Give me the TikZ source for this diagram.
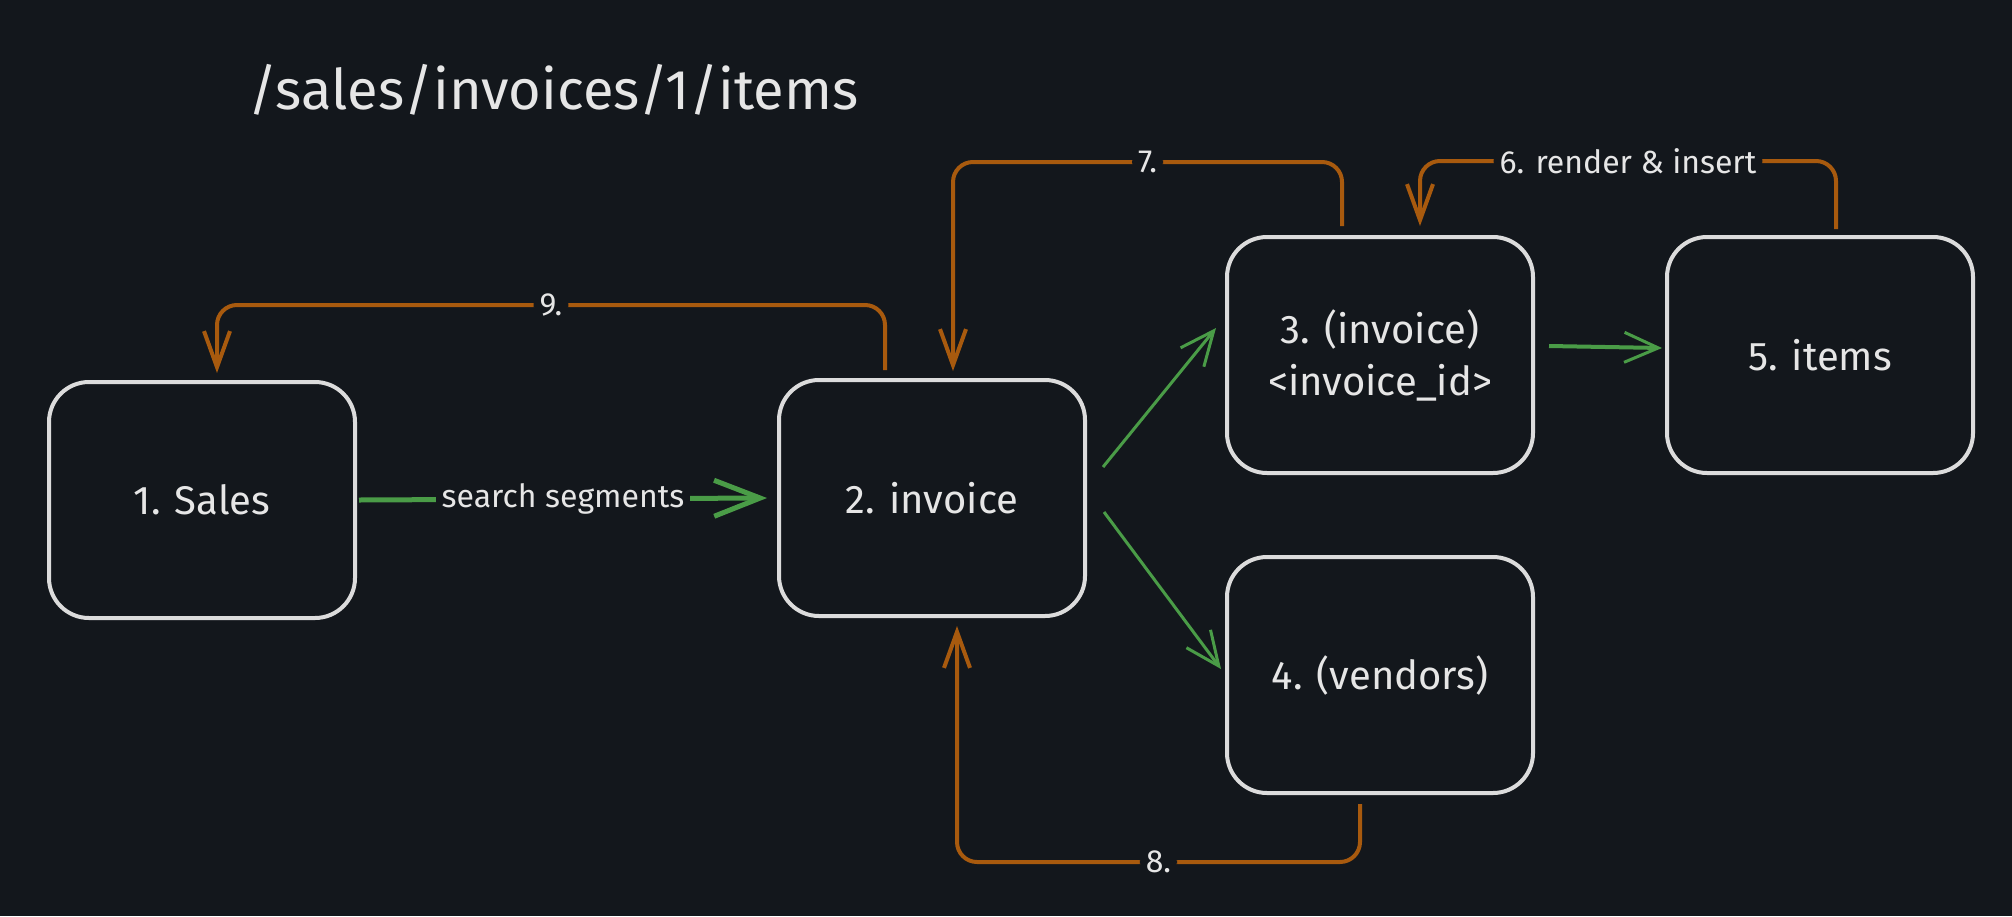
\documentclass[tikz,border=0pt]{standalone}
\usepackage{fontspec}
\setmainfont{Fira Sans}
\usetikzlibrary{arrows.meta,calc}
\definecolor{bgc}{HTML}{13171C}
\definecolor{boxc}{HTML}{DCDCDC}
\definecolor{txtc}{HTML}{E6E6E6}
\definecolor{orc}{HTML}{A85A0E}
\definecolor{grc}{HTML}{4A9C47}
\tikzset{
  box/.style={draw=boxc, line width=2pt, rounded corners=20pt, minimum width=153pt, minimum height=118pt, text=txtc, font=\fontsize{20}{24}\selectfont, align=center},
  lbl/.style={fill=bgc, text=txtc, font=\fontsize{16}{19}\selectfont, inner sep=3pt},
  oarrow/.style={draw=orc, line width=2pt, rounded corners=10pt, -{Straight Barb[length=18pt,width=13pt,line width=2pt]}},
  garrow/.style={draw=grc, line width=1.5pt, -{Straight Barb[length=17pt,width=15pt,line width=1.5pt]}},
  gthick/.style={draw=grc, line width=2.5pt, -{Straight Barb[length=23pt,width=18pt,line width=2.5pt]}}
}
\begin{document}
\begin{tikzpicture}[x=0.5pt,y=-0.5pt]
\fill[bgc] (0,0) rectangle (2012,916);
\useasboundingbox (0,0) rectangle (2012,916);
\node[anchor=west, text=txtc, font=\fontsize{28}{34}\selectfont, inner sep=0pt] (title) at (248,90) {/sales/invoices/1/items};
\node[box] (b1) at (202,500) {1. Sales};
\node[box] (b2) at (932,498) {2. invoice};
\node[box] (b3) at (1380,355) {3. (invoice)\\[2pt]<invoice\_id>};
\node[box] (b4) at (1380,675) {4. (vendors)};
\node[box] (b5) at (1820,355) {5. items};
\coordinate (y9) at (0,305);
\coordinate (y7) at (0,162);
\coordinate (y6) at (0,161);
\coordinate (y8) at (0,862);
% green arrows
\draw[gthick] ([xshift=1pt]b1.east) -- node[lbl]{search segments} ([xshift=-5pt]b2.west);
\draw[garrow] ([xshift=8pt,yshift=15.5pt]b2.east) -- ([xshift=-4.5pt,yshift=13.5pt]b3.west);
\draw[garrow] ([xshift=8.5pt,yshift=-7pt]b2.east) -- ([xshift=-2pt,yshift=3pt]b4.west);
\draw[garrow, line width=2pt] ([xshift=7pt,yshift=4.5pt]b3.east) -- ([xshift=-1.5pt,yshift=3.5pt]b5.west);
% orange arrows
\coordinate (s9) at ([xshift=-23.5pt,yshift=4pt]b2.north);
\coordinate (e9) at ([xshift=7.5pt,yshift=3.5pt]b1.north);
\draw[oarrow] (s9) -- (s9 |- y9) -- node[lbl]{9.} (e9 |- y9) -- (e9);
\coordinate (s7) at ([xshift=-19pt,yshift=4.5pt]b3.north);
\coordinate (e7) at ([xshift=10.5pt,yshift=3.5pt]b2.north);
\draw[oarrow] (s7) -- (s7 |- y7) -- node[lbl]{7.} (e7 |- y7) -- (e7);
\coordinate (s6) at ([xshift=8pt,yshift=3pt]b5.north);
\coordinate (e6) at ([xshift=20pt,yshift=4.5pt]b3.north);
\draw[oarrow] (s6) -- (s6 |- y6) -- node[lbl]{6. render \& insert} (e6 |- y6) -- (e6);
\coordinate (s8) at ([xshift=-10pt,yshift=-4.5pt]b4.south);
\coordinate (e8) at ([xshift=12.5pt,yshift=-4pt]b2.south);
\draw[oarrow] (s8) -- (s8 |- y8) -- node[lbl]{8.} (e8 |- y8) -- (e8);
\end{tikzpicture}
\end{document}
